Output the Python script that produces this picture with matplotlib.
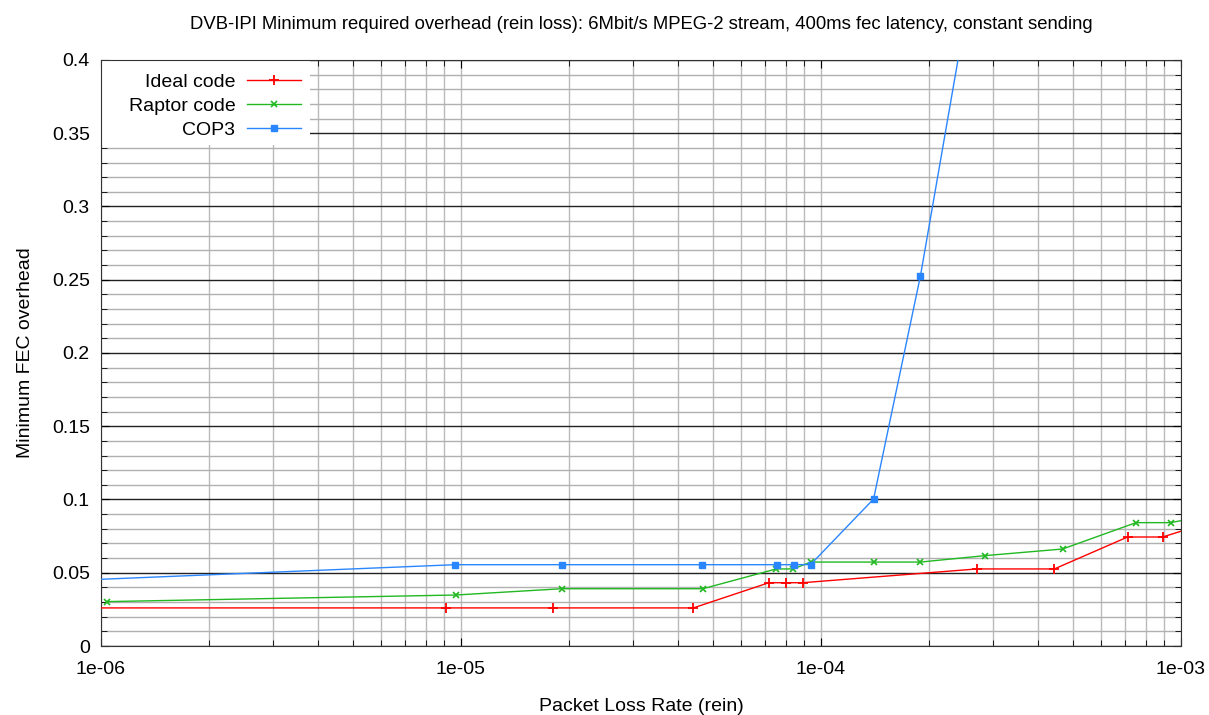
import matplotlib
matplotlib.use('Agg')
import matplotlib.pyplot as plt
from matplotlib.patches import Rectangle
from matplotlib.ticker import LogLocator, MultipleLocator, NullFormatter, FixedLocator, FixedFormatter

plt.rcParams['font.family'] = ['Liberation Sans', 'DejaVu Sans']

# packet loss rate / minimum FEC overhead
ideal_x = [9e-7, 9.08e-6, 1.80e-5, 4.42e-5, 7.17e-5, 8.0e-5, 8.9e-5, 2.71e-4, 4.45e-4, 7.11e-4, 8.89e-4, 1.1e-3]
ideal_y = [0.026, 0.026, 0.026, 0.026, 0.0432, 0.0432, 0.0432, 0.0526, 0.0526, 0.0744, 0.0744, 0.0815]

raptor_x = [1.04e-6, 9.67e-6, 1.905e-5, 4.70e-5, 7.51e-5, 8.38e-5, 9.36e-5, 1.40e-4, 1.89e-4, 2.86e-4, 4.69e-4, 7.50e-4, 9.36e-4, 1.1e-3]
raptor_y = [0.0303, 0.0348, 0.0391, 0.0391, 0.0526, 0.0526, 0.0573, 0.0573, 0.0573, 0.0617, 0.0662, 0.0842, 0.0842, 0.0875]

cop3_x = [6e-7, 9.64e-6, 1.905e-5, 4.66e-5, 7.57e-5, 8.44e-5, 9.36e-5, 1.40e-4, 1.89e-4, 2.86e-4]
cop3_y = [0.0433, 0.0555, 0.0555, 0.0555, 0.0555, 0.0555, 0.0556, 0.1003, 0.2528, 0.507]

fig = plt.figure(figsize=(12.09, 7.15), dpi=100)
ax = fig.add_axes([0.0835, 0.0965, 0.8933, 0.8196])

ax.plot(ideal_x, ideal_y, color='#ff0000', lw=1, marker='+', ms=7, mew=1.3, label='Ideal code', zorder=3)
ax.plot(raptor_x, raptor_y, color='#22b822', lw=1, marker='x', ms=4, mew=1.2, label='Raptor code', zorder=3)
ax.plot(cop3_x, cop3_y, color='#2a86ff', lw=1, marker='s', ms=4, label='COP3', zorder=3)

ax.set_xscale('log')
ax.set_xlim(1e-6, 1e-3)
ax.set_ylim(0, 0.4)

ax.xaxis.set_major_locator(FixedLocator([1e-6, 1e-5, 1e-4, 1e-3]))
ax.xaxis.set_major_formatter(FixedFormatter(['1e-06', '1e-05', '1e-04', '1e-03']))
ax.xaxis.set_minor_locator(LogLocator(base=10, subs=range(2, 10)))
ax.xaxis.set_minor_formatter(NullFormatter())

ax.yaxis.set_minor_locator(MultipleLocator(0.01))
ax.set_yticks([0, 0.05, 0.1, 0.15, 0.2, 0.25, 0.3, 0.35, 0.4])
ax.set_yticklabels(['0', '0.05', '0.1', '0.15', '0.2', '0.25', '0.3', '0.35', '0.4'])

ax.grid(True, which='major', axis='y', color='#222222', lw=1)
ax.grid(True, which='minor', axis='y', color='#b0b0b0', lw=1)
ax.grid(True, which='both', axis='x', color='#bbbbbb', lw=1)
ax.set_axisbelow(True)

ax.tick_params(which='both', direction='in', top=True, right=True, labelsize=14)
ax.tick_params(axis='y', pad=8)
ax.tick_params(axis='x', pad=11)
ax.tick_params(which='major', length=6)
ax.tick_params(which='minor', length=4)
for s in ax.spines.values():
    s.set_color('#333333')

ax.set_title('DVB-IPI Minimum required overhead (rein loss): 6Mbit/s MPEG-2 stream, 400ms fec latency, constant sending',
             fontsize=13.3, pad=22.5)
ax.set_xlabel('Packet Loss Rate (rein)', fontsize=14, labelpad=14)
ax.set_ylabel('Minimum FEC overhead', fontsize=14, labelpad=13)

# white key area in the top-left corner, hides the grid like gnuplot does
ax.add_patch(Rectangle((0, 0.855), 0.1935, 0.145, transform=ax.transAxes,
                       facecolor='white', edgecolor='none', zorder=2.5))

leg = ax.legend(loc='upper left', bbox_to_anchor=(0.0184, 0.99), markerfirst=False, fontsize=14,
                frameon=False, borderaxespad=0, borderpad=0.4,
                handlelength=2.8, handletextpad=0.6, labelspacing=0.31)

fig.savefig('out.png', dpi=100)
